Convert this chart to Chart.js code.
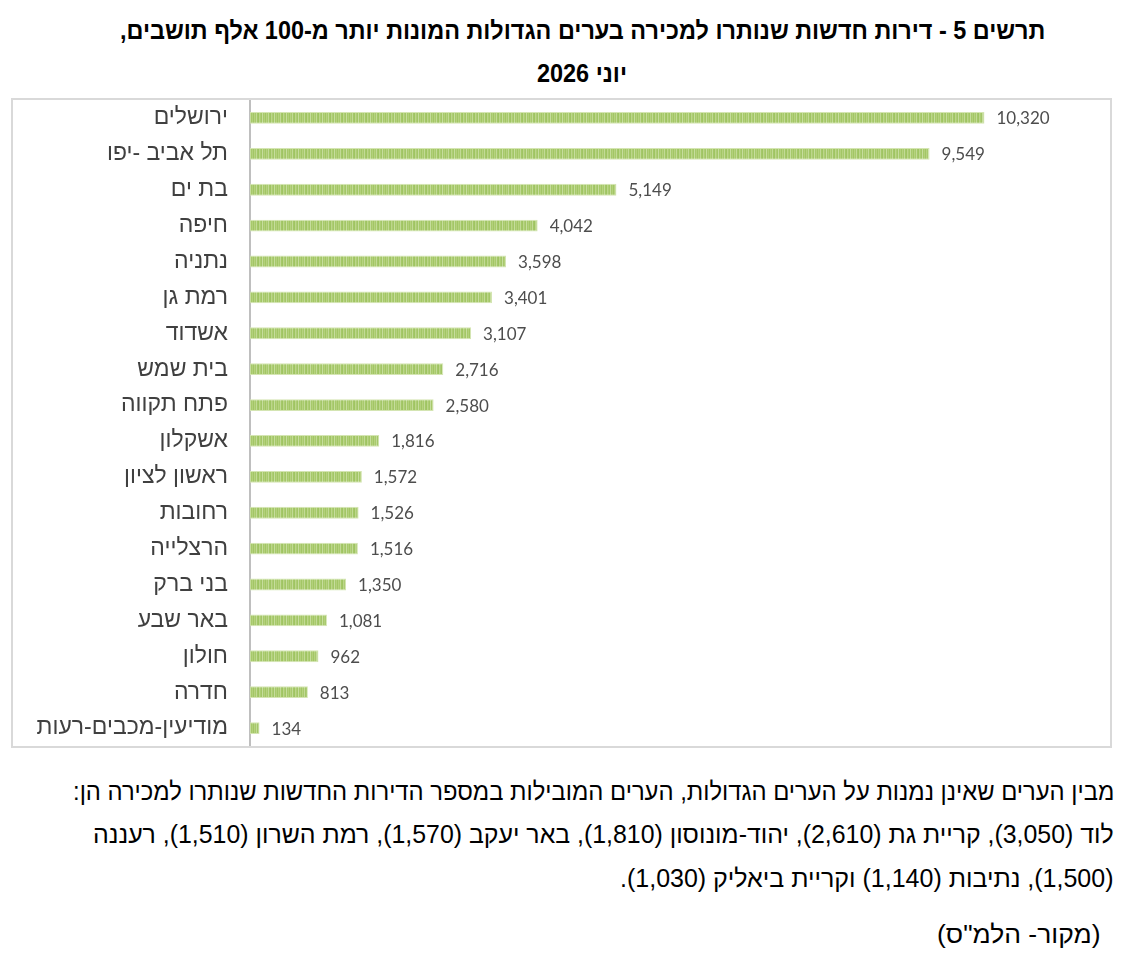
<!DOCTYPE html>
<html lang="he">
<head>
<meta charset="utf-8">
<script src="https://cdn.jsdelivr.net/npm/chart.js@4.4.1/dist/chart.umd.min.js"></script>
<style>
  html, body { margin: 0; padding: 0; background: #fff; }
  body { width: 1130px; height: 970px; position: relative; overflow: hidden; }
  .t { position: absolute; direction: rtl; white-space: nowrap; color: #000;
       font-family: "Liberation Sans", Arial, sans-serif; line-height: 30px; display: inline-block; }
  .ttl { font-weight: bold; font-size: 25px; transform-origin: left center; }
  #box { position: absolute; left: 11px; top: 98px; width: 1101px; height: 650px;
         border: 2px solid #d9d9d9; box-sizing: border-box; }
  #box canvas { display: block; }
  .n { font-size: 25px; transform-origin: right center; }
</style>
</head>
<body>
<div class="t ttl" id="title1" data-w="925" data-c="582" style="top:15px">תרשים 5 - דירות חדשות שנותרו למכירה בערים הגדולות המונות יותר מ-100 אלף תושבים,</div>
<div class="t ttl" id="title2" data-w="90" data-c="582" style="top:58px">יוני 2026</div>
<div id="box"><canvas id="c" width="1097" height="646"></canvas></div>
<div class="t n" data-w="1041" data-r="1114" style="top:776px">מבין הערים שאינן נמנות על הערים הגדולות, הערים המובילות במספר הדירות החדשות שנותרו למכירה הן:</div>
<div class="t n" data-w="1021" data-r="1114" style="top:819px">לוד (3,050), קריית גת (2,610), יהוד-מונוסון (1,810), באר יעקב (1,570), רמת השרון (1,510), רעננה</div>
<div class="t n" data-w="494" data-r="1114" style="top:863px">(1,500), נתיבות (1,140) וקריית ביאליק (1,030).</div>
<div class="t n" data-w="163" data-r="1100" style="top:919px">(מקור- הלמ"ס)</div>
<script>
const categories = ["ירושלים","תל אביב -יפו","בת ים","חיפה","נתניה","רמת גן","אשדוד","בית שמש","פתח תקווה","אשקלון","ראשון לציון","רחובות","הרצלייה","בני ברק","באר שבע","חולון","חדרה","מודיעין-מכבים-רעות"];
const values = [10320, 9549, 5149, 4042, 3598, 3401, 3107, 2716, 2580, 1816, 1572, 1526, 1516, 1350, 1081, 962, 813, 134];
const axisMax = 12000;

// fit text blocks to the measured widths in the reference
document.querySelectorAll('.t').forEach(el => {
  const w = el.offsetWidth;
  const target = +el.dataset.w;
  const s = target / w;
  el.style.transform = 'scaleX(' + s + ')';
  if (el.dataset.c) {
    el.style.left = (+el.dataset.c - target / 2) + 'px';
  } else {
    el.style.left = (+el.dataset.r - w) + 'px';
  }
});

function stripePattern() {
  const p = document.createElement('canvas');
  const cols = ['#a2c665','#b6d27f','#a8ca6d','#c2da96','#a4c768','#9fc462','#bcd68a','#adcd74','#a3c667','#c6dd9d','#a7c96b','#b3d07b'];
  p.width = cols.length; p.height = 4;
  const g = p.getContext('2d');
  cols.forEach((c, i) => { g.fillStyle = c; g.fillRect(i, 0, 1, 4); });
  return g.createPattern(p, 'repeat');
}

const valueLabels = {
  id: 'valueLabels',
  afterDatasetsDraw(chart) {
    const ctx = chart.ctx;
    const meta = chart.getDatasetMeta(0);
    ctx.save();
    ctx.font = '17px Lato, "Open Sans", sans-serif';
    ctx.fillStyle = '#4d4d4d';
    ctx.textAlign = 'left';
    ctx.textBaseline = 'middle';
    meta.data.forEach((el, i) => {
      ctx.fillText(values[i].toLocaleString('en-US'), el.x + 12, el.y + 1);
    });
    ctx.restore();
  }
};

new Chart(document.getElementById('c'), {
  type: 'bar',
  data: {
    labels: categories,
    datasets: [{
      data: values,
      backgroundColor: stripePattern(),
      borderColor: '#d4e5b2',
      borderWidth: 1,
      categoryPercentage: 1,
      barPercentage: 0.33
    }]
  },
  options: {
    indexAxis: 'y',
    responsive: false,
    animation: false,
    layout: { padding: { left: 0, right: 6, top: 0, bottom: 0 } },
    plugins: { legend: { display: false }, tooltip: { enabled: false }, title: { display: false } },
    scales: {
      x: { display: false, min: 0, max: axisMax },
      y: {
        grid: { display: false, drawTicks: false },
        border: { display: true, color: '#bfbfbf', width: 2 },
        ticks: { color: '#404040', padding: 22, font: { family: '"Liberation Sans", Arial, sans-serif', size: 23 } },
        afterFit(s) { s.width = 237; s.paddingTop = 0; s.paddingBottom = 0; }
      }
    }
  },
  plugins: [valueLabels]
});
</script>
</body>
</html>
